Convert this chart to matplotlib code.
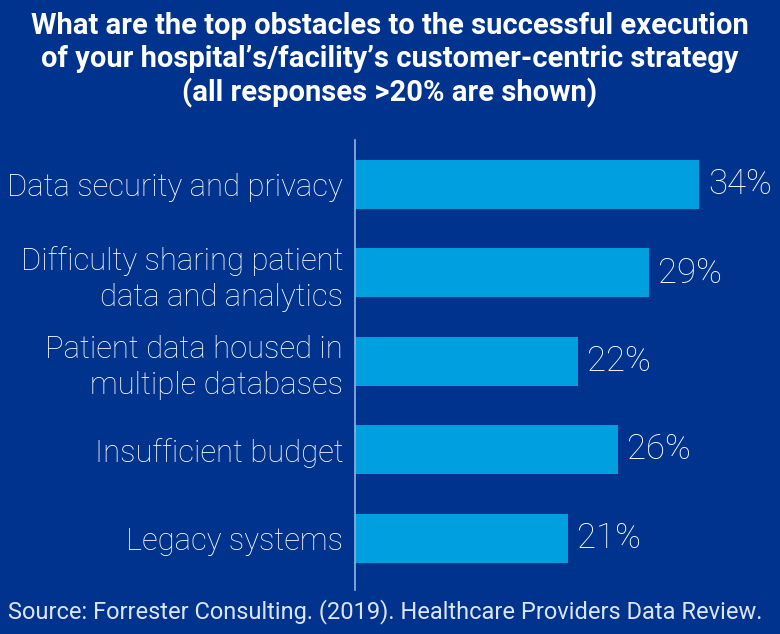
import matplotlib
matplotlib.use("Agg")
import matplotlib.pyplot as plt

categories = ["Data security and privacy",
              "Difficulty sharing patient\ndata and analytics",
              "Patient data housed in\nmultiple databases",
              "Insufficient budget",
              "Legacy systems"]
values = [34, 29, 22, 26, 21]
value_labels = ["34%", "29%", "22%", "26%", "21%"]
title = ("What are the top obstacles to the successful execution\n"
         "of your hospital\u2019s/facility\u2019s customer-centric strategy\n"
         "(all responses >20% are shown)")
source = "Source: Forrester Consulting. (2019). Healthcare Providers Data Review."

FONT = "Roboto"
BG = "#00338D"
BAR = "#009FDF"

fig = plt.figure(figsize=(7.8, 6.34), dpi=100, facecolor=BG)
ax = fig.add_axes([355/780, 1-590/634, 405/780, 450/634])
ax.set_facecolor(BG)

ypos = list(range(len(categories)))
ax.barh(ypos, values, height=0.554, color=BAR)
ax.set_xlim(0, 40)
ax.set_ylim(4.588, -0.503)
for s in ["top", "right", "bottom"]:
    ax.spines[s].set_visible(False)
ax.spines["left"].set_color("#8FB4E6")
ax.spines["left"].set_linewidth(1.2)
ax.set_xticks([])
ax.set_yticks(ypos)
ax.set_yticklabels(categories, fontsize=22.3, color="white", family=FONT,
                   fontweight="light", linespacing=1.3, ha="right")
ax.tick_params(axis="y", length=0, pad=8.5)

for y, v, t in zip(ypos, values, value_labels):
    ax.text(v + 0.9, y, t, va="center", ha="left", fontsize=25,
            color="white", family=FONT, fontweight="light")

fig.text(0.5, 1-60/634, title, ha="center", va="center", fontsize=21,
         fontweight="bold", color="white", family=FONT, linespacing=1.2)
fig.text(8/780, 1-612/634, source, ha="left", va="center", fontsize=17,
         color="#DDE6F5", family=FONT)

fig.savefig("out.png", dpi=100, facecolor=BG)
